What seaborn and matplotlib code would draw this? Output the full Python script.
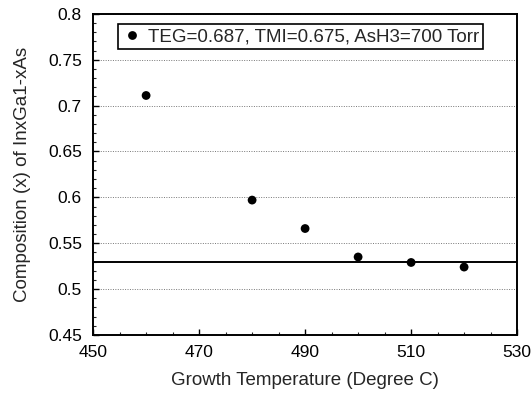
import matplotlib
matplotlib.use("Agg")
import matplotlib.pyplot as plt
import seaborn as sns
import pandas as pd
from matplotlib.ticker import MultipleLocator, FixedLocator

temps = [460, 480, 490, 500, 510, 520]
comp = [0.711, 0.597, 0.566, 0.535, 0.529, 0.524]
ref_line = 0.53
xticks = [450, 470, 490, 510, 530]
yticks = [0.45, 0.5, 0.55, 0.6, 0.65, 0.7, 0.75, 0.8]
ytick_labels = ["0.45", "0.5", "0.55", "0.6", "0.65", "0.7", "0.75", "0.8"]
series_label = "TEG=0.687, TMI=0.675, AsH3=700 Torr"

df = pd.DataFrame({"T": temps, "x": comp, "s": series_label})

sns.set_style("white")
plt.rcParams['font.family'] = ['Liberation Sans', 'DejaVu Sans']

fig = plt.figure(figsize=(5.32, 3.95), dpi=100)
ax = fig.add_axes([0.175, 0.152, 0.797, 0.813])

sns.scatterplot(data=df, x="T", y="x", hue="s", palette=["black"], s=40,
                edgecolor="black", linewidth=0, ax=ax, zorder=3)
ax.axhline(ref_line, color="black", lw=1.4, zorder=2)

ax.set_xlim(450, 530)
ax.set_ylim(0.45, 0.8)
ax.xaxis.set_major_locator(FixedLocator(xticks))
ax.yaxis.set_major_locator(FixedLocator(yticks))
ax.set_yticklabels(ytick_labels)
ax.xaxis.set_minor_locator(MultipleLocator(5))
ax.yaxis.set_minor_locator(MultipleLocator(0.01))
ax.tick_params(axis="both", which="major", direction="in", length=4, width=1,
               labelsize=12.5, colors="black", left=True, bottom=True)
ax.tick_params(axis="y", which="major", pad=8)
ax.tick_params(axis="x", which="major", pad=7)
ax.tick_params(axis="both", which="minor", direction="in", length=2, width=0.8,
               left=True, bottom=True)
ax.grid(axis="y", which="major", color="#777777", linestyle=(0, (1, 1.5)), lw=0.7)
ax.grid(axis="x", visible=False)
for sp in ax.spines.values():
    sp.set_color("black")
    sp.set_linewidth(1.4)

ax.set_xlabel("Growth Temperature (Degree C)", fontsize=13.5, labelpad=9)
ax.set_ylabel("Composition (x) of InxGa1-xAs", fontsize=13.5, labelpad=12)

leg = ax.legend(loc="upper center", bbox_to_anchor=(0.49, 0.985), fontsize=13.5,
                frameon=True, fancybox=False, edgecolor="black",
                handletextpad=0.3, borderpad=0.2, handlelength=1.1,
                borderaxespad=0.3)
leg.get_frame().set_linewidth(1.2)
leg.get_frame().set_alpha(1)

fig.savefig("out.png", dpi=100)
